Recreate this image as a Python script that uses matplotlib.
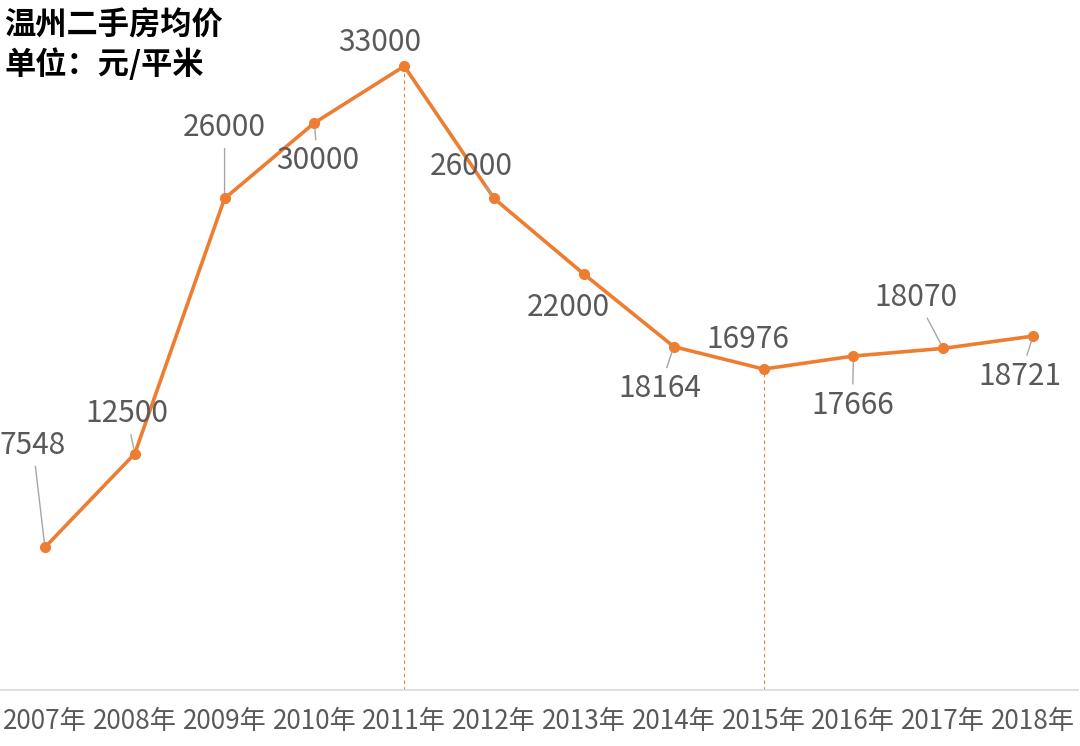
import matplotlib
matplotlib.use("Agg")
import matplotlib.pyplot as plt

plt.rcParams['font.family'] = ['Noto Sans CJK SC', 'DejaVu Sans']

years = ["2007年", "2008年", "2009年", "2010年", "2011年", "2012年",
         "2013年", "2014年", "2015年", "2016年", "2017年", "2018年"]
prices = [7548, 12500, 26000, 30000, 33000, 26000, 22000, 18164, 16976, 17666, 18070, 18721]
title_lines = ["温州二手房均价", "单位：元/平米"]
marked_years = [4, 8]  # indices with vertical dashed drop lines

# label offsets (pixels) relative to each point, and whether a leader line is drawn
label_dx = [-12, -8, 0, 3, -25, -23, -16, -14, -16, -1, -27, -13]
label_dy = [102, 40, 71, -38, 24, 32, -33, -42, 30, -49, 51, -40]
leader = [True, True, True, True, False, True, False, True, False, True, True, True]

orange = "#ED7D31"
gray_text = "#595959"

fig = plt.figure(figsize=(10.8, 7.46), dpi=100)
ax = fig.add_axes([0.0, (746 - 690) / 746, 1078 / 1080, 690 / 746])

x = list(range(len(years)))
ax.plot(x, prices, color=orange, lw=2.6, marker="o", markersize=7,
        markeredgecolor=orange, markerfacecolor=orange, zorder=3)

for i in marked_years:
    ax.vlines(i, 0, prices[i], colors=orange, lw=0.8, linestyles=(0, (3, 3)), zorder=1)

for i, v in enumerate(prices):
    kw = {}
    if leader[i]:
        kw["arrowprops"] = dict(arrowstyle="-", color="#A6A6A6", lw=1,
                                shrinkA=2, shrinkB=4)
    ax.annotate(f"{v}", xy=(i, v), xytext=(label_dx[i], label_dy[i]),
                textcoords="offset pixels", ha="center", va="center",
                fontsize=21.5, color=gray_text, zorder=4, **kw)

ax.set_xlim(-0.5, len(years) - 0.5)
ax.set_ylim(0, 36500)
ax.set_xticks(x)
ax.set_xticklabels(years, fontsize=18.8, color=gray_text)
ax.tick_params(axis="x", length=0, pad=13)
ax.set_yticks([])
for s in ["top", "right", "left"]:
    ax.spines[s].set_visible(False)
ax.spines["bottom"].set_color("#D9D9D9")
ax.spines["bottom"].set_linewidth(1.2)

fig.text(4 / 1080, 1 - 26 / 746, title_lines[0], fontsize=22.5, fontweight="bold",
         color="black", ha="left", va="center")
fig.text(4 / 1080, 1 - 65 / 746, title_lines[1], fontsize=22.5, fontweight="bold",
         color="black", ha="left", va="center")

fig.savefig("out.png", dpi=100, facecolor="white")
